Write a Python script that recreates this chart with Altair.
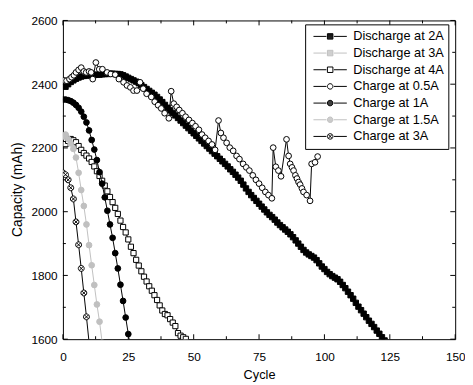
import altair as alt
import pandas as pd

FONT = "Liberation Sans"
BLACK = "black"
GREY = "#c0c0c0"

series_names = ["Discharge at 2A", "Discharge at 3A", "Discharge at 4A",
                "Charge at 0.5A", "Charge at 1A", "Charge at 1.5A", "Charge at 3A"]

# ---- data ----
cyc_d2 = list(range(1, 124))
cap_d2 = [2392, 2400, 2407, 2412, 2417, 2421, 2424, 2426, 2427, 2428,
          2429, 2429, 2430, 2430, 2431, 2432, 2432, 2433, 2433, 2432,
          2432, 2431, 2428, 2424, 2420, 2416, 2412, 2408, 2403, 2397,
          2391, 2385, 2379, 2373, 2367, 2360, 2352, 2344, 2335, 2326,
          2318, 2310, 2302, 2294, 2286, 2278, 2270, 2262, 2254, 2246,
          2238, 2230, 2222, 2214, 2206, 2198, 2190, 2182, 2174, 2166,
          2158, 2150, 2142, 2133, 2125, 2116, 2107, 2097, 2085, 2073,
          2062, 2052, 2043, 2034, 2025, 2016, 2007, 1998, 1990, 1983,
          1975, 1966, 1958, 1951, 1944, 1937, 1929, 1920, 1910, 1900,
          1890, 1880, 1872, 1866, 1861, 1856, 1848, 1838, 1828, 1820,
          1811, 1804, 1798, 1793, 1788, 1780, 1770, 1760, 1749, 1738,
          1727, 1714, 1702, 1691, 1680, 1669, 1658, 1648, 1638, 1627,
          1617, 1606, 1596]

cyc_d3 = [1, 2, 3]
cap_d3 = [2236, 2228, 2221]

cyc_d4 = list(range(1, 48))
cap_d4 = [2212, 2222, 2228, 2224, 2218, 2206, 2194, 2184, 2176, 2167,
          2156, 2142, 2127, 2112, 2097, 2082, 2064, 2046, 2030, 2012,
          1993, 1972, 1952, 1935, 1913, 1890, 1870, 1849, 1831, 1813,
          1796, 1781, 1766, 1752, 1738, 1723, 1706, 1690, 1679, 1675,
          1663, 1652, 1641, 1619, 1611, 1606, 1601]

cyc_c05 = [0.5, 1.4, 2.5, 3.3, 4.2, 5.0, 6.0, 7.0, 8.0, 8.9, 10.0, 10.8, 11.4,
           12.6, 13.9, 15.1, 16.9, 18.3, 20.0, 21.4, 23.2, 24.5, 25.8, 27.0,
           28.3, 29.5, 30.7, 32.0, 33.8, 35.1, 36.4, 37.6, 38.9, 40.5, 41.4,
           42.4, 43.5, 44.5, 45.7, 46.9, 48.2, 49.5, 50.7, 52.0, 53.2, 54.4,
           55.7, 57.0, 58.2, 59.5, 60.4, 61.4, 62.6, 63.8, 65.1, 66.4, 67.5,
           68.9, 70.1, 71.3, 72.6, 73.8, 75.0, 76.2, 77.4, 78.6, 79.9, 80.4,
           81.4, 82.4, 83.4, 85.5, 86.3, 86.9, 87.6, 88.2, 88.9, 89.5, 90.1,
           90.7, 91.4, 92.0, 93.2, 94.5, 95.1, 96.4, 97.4]
cap_c05 = [2412, 2411, 2416, 2422, 2428, 2437, 2445, 2452, 2440, 2437, 2440,
           2437, 2416, 2468, 2447, 2447, 2437, 2432, 2430, 2416, 2406, 2396,
           2390, 2380, 2380, 2406, 2386, 2370, 2360, 2345, 2334, 2324, 2309,
           2293, 2378, 2339, 2329, 2319, 2309, 2298, 2288, 2278, 2268, 2257,
           2242, 2232, 2222, 2211, 2194, 2286, 2247, 2232, 2216, 2201, 2191,
           2175, 2165, 2150, 2139, 2129, 2114, 2100, 2088, 2075, 2062, 2052,
           2042, 2201, 2141, 2129, 2111, 2227, 2175, 2150, 2139, 2129, 2114,
           2104, 2093, 2085, 2073, 2062, 2052, 2034, 2150, 2155, 2173]

cyc_c1 = list(range(0, 27))
cap_c1 = [2352, 2352, 2350, 2347, 2342, 2335, 2326, 2314, 2298, 2280,
          2255, 2225, 2195, 2162, 2124, 2088, 2045, 2003, 1960, 1918,
          1870, 1822, 1771, 1720, 1668, 1616, 1564]

cyc_c15 = list(range(1, 16))
cap_c15 = [2242, 2228, 2214, 2197, 2170, 2122, 2068, 2018, 1960, 1895,
           1832, 1770, 1709, 1655, 1590]

cyc_c3 = list(range(0, 11))
cap_c3 = [2122, 2116, 2100, 2075, 2040, 1968, 1896, 1822, 1745, 1670, 1590]

x_major = [0, 25, 50, 75, 100, 125, 150]
x_minor = [12.5, 37.5, 62.5, 87.5, 112.5, 137.5]
y_major = [1600, 1800, 2000, 2200, 2400, 2600]
y_minor = [1700, 1900, 2100, 2300, 2500]

series_data = [(cyc_d2, cap_d2), (cyc_d3, cap_d3), (cyc_d4, cap_d4),
               (cyc_c05, cap_c05), (cyc_c1, cap_c1), (cyc_c15, cap_c15),
               (cyc_c3, cap_c3)]

# ---- styles ----
XCIRC = "M-1,0A1,1 0 1,0 1,0A1,1 0 1,0 -1,0Z M-0.7,-0.7L0.7,0.7M-0.7,0.7L0.7,-0.7"
styles = [
    dict(line=BLACK, shape="square", fill=BLACK, stroke=BLACK, size=30),
    dict(line=GREY, shape="square", fill=GREY, stroke=GREY, size=30),
    dict(line=BLACK, shape="square", fill="white", stroke=BLACK, size=28),
    dict(line=BLACK, shape="circle", fill="white", stroke=BLACK, size=34),
    dict(line=BLACK, shape="circle", fill=BLACK, stroke=BLACK, size=34),
    dict(line=GREY, shape="circle", fill=GREY, stroke=GREY, size=34),
    dict(line=BLACK, shape=XCIRC, fill="white", stroke=BLACK, size=36),
]

# legend symbols: a 34 px wide symbol (symbolSize 34^2), unit = 17 px
SYM = 34.0
u = 2.0 / SYM          # one pixel in path units
r = 2.8 * u            # marker half size


def f(v):
    return f"{v:.4f}"


LN = f"M-1,0H{f(-r - u)}M{f(r + u)},0H1"
SQ = f"M{f(-r)},{f(-r)}H{f(r)}V{f(r)}H{f(-r)}Z"
SQF = SQ + "".join(f"M{f(-r)},{f(y * u)}H{f(r)}" for y in (-2, -1, 0, 1, 2))
CI = f"M{f(-r)},0A{f(r)},{f(r)} 0 1,0 {f(r)},0A{f(r)},{f(r)} 0 1,0 {f(-r)},0Z"
CIF = CI + "".join(
    f"M{f(-((r * r - (y * u) ** 2) ** 0.5))},{f(y * u)}H{f((r * r - (y * u) ** 2) ** 0.5)}"
    for y in (-2, -1, 0, 1, 2))
d7 = r * 0.7
CIX = CI + f"M{f(-d7)},{f(-d7)}L{f(d7)},{f(d7)}M{f(-d7)},{f(d7)}L{f(d7)},{f(-d7)}"
legend_paths = [LN + SQF, LN + SQF, LN + SQ, LN + CI, LN + CIF, LN + CIF, LN + CIX]
legend_colors = [BLACK, GREY, BLACK, BLACK, BLACK, GREY, BLACK]

W, H = 400, 325
MAJ, MIN = 5, 3

scale_x = alt.Scale(domain=[0, 150], nice=False, zero=False)
scale_y = alt.Scale(domain=[1600, 2600], nice=False, zero=False)

x_axis = alt.Axis(orient="bottom", values=x_major, ticks=False, tickSize=0,
                  domain=False, grid=False, labelFlush=False, labelOverlap=False,
                  labelFont=FONT, labelFontSize=12, labelColor="black",
                  labelPadding=13, format="d", title="Cycle", titleFont=FONT,
                  titleFontSize=13, titleFontWeight=400, titleColor="black",
                  titlePadding=6)
y_axis = alt.Axis(orient="left", values=y_major, ticks=False, tickSize=0,
                  domain=False, grid=False, labelOverlap=False,
                  labelFont=FONT, labelFontSize=12, labelColor="black",
                  labelPadding=6, format="d", title="Capacity (mAh)",
                  titleFont=FONT, titleFontSize=14, titleFontWeight=400,
                  titleColor="black", titlePadding=7, titleY=172)

layers = []
for i, (name, (xs, ys), st) in enumerate(zip(series_names, series_data, styles)):
    d = pd.DataFrame({"cycle": xs, "capacity": ys, "series": name})
    base = alt.Chart(d)
    # only the very first layer carries the axes
    enc_axes = dict(x=alt.X("cycle:Q", scale=scale_x, axis=x_axis if i == 0 else None),
                    y=alt.Y("capacity:Q", scale=scale_y, axis=y_axis if i == 0 else None))
    enc_plain = dict(x=alt.X("cycle:Q", scale=scale_x, axis=None),
                     y=alt.Y("capacity:Q", scale=scale_y, axis=None))
    layers.append(base.mark_line(color=st["line"], strokeWidth=1, clip=True).encode(**enc_axes))
    layers.append(base.mark_point(shape=st["shape"], size=st["size"], filled=True,
                                  fill=st["fill"], stroke=st["stroke"],
                                  strokeWidth=1, opacity=1, clip=True).encode(**enc_plain))


# inward ticks on all four sides
def xticks(vals, y0, y1):
    return alt.Chart(pd.DataFrame({"t": vals})).mark_rule(color=BLACK, strokeWidth=1).encode(
        x=alt.X("t:Q", scale=scale_x, axis=None), y=alt.value(y0), y2=alt.value(y1))


def yticks(vals, x0, x1):
    return alt.Chart(pd.DataFrame({"t": vals})).mark_rule(color=BLACK, strokeWidth=1).encode(
        y=alt.Y("t:Q", scale=scale_y, axis=None), x=alt.value(x0), x2=alt.value(x1))


tick_layers = [
    xticks(x_major, H, H - MAJ), xticks(x_minor, H, H - MIN),
    xticks(x_major, 0, MAJ), xticks(x_minor, 0, MIN),
    yticks(y_major, 0, MAJ), yticks(y_minor, 0, MIN),
    yticks(y_major, W, W - MAJ), yticks(y_minor, W, W - MIN),
]

leg = alt.Legend(title=None, orient="none", legendX=247, legendY=4,
                 labelFont=FONT, labelFontSize=13, labelColor="black",
                 symbolSize=SYM * SYM, symbolStrokeWidth=1, symbolOffset=4,
                 labelOffset=6, strokeColor="black", fillColor="white",
                 padding=4, rowPadding=0, clipHeight=16.5)

legend_layer = alt.Chart(pd.DataFrame({"series": series_names})).mark_point(
    filled=False, opacity=1, strokeWidth=1
).encode(
    shape=alt.Shape("series:N", scale=alt.Scale(domain=series_names, range=legend_paths), legend=leg),
    color=alt.Color("series:N", scale=alt.Scale(domain=series_names, range=legend_colors), legend=leg),
).transform_filter("false")

chart = alt.layer(*layers, *tick_layers, legend_layer).resolve_axis(
    x="independent", y="independent"
).properties(
    width=W, height=H,
    autosize=alt.AutoSizeParams(type="none"),
    padding={"left": 56, "top": 9, "right": 10, "bottom": 42},
    background="white",
).configure_view(stroke="black", strokeWidth=1).configure_axis(titleFontWeight=400)

chart.save("out.html", embed_options={"renderer": "svg", "actions": False})
